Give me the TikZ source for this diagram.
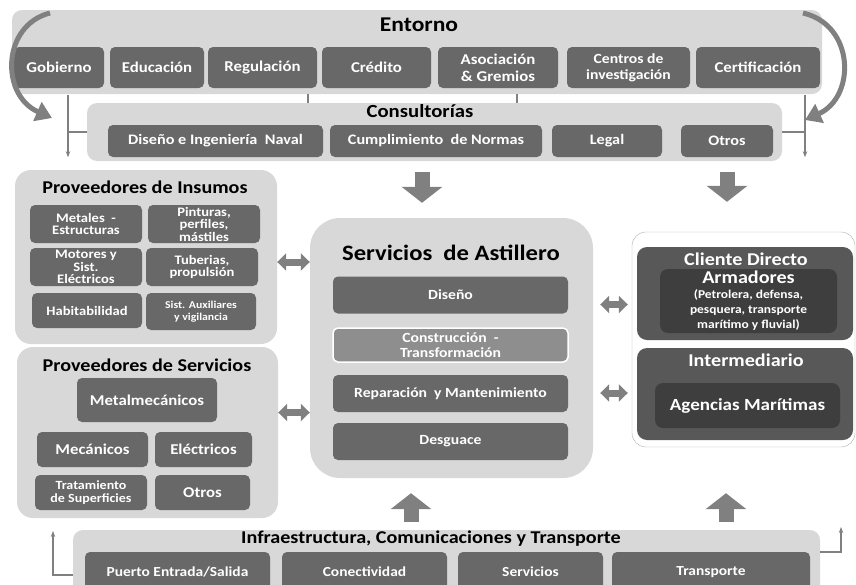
\documentclass[tikz,border=0pt]{standalone}
\usepackage{fontspec}
\setmainfont{Carlito}[FakeStretch=1.12]
\usetikzlibrary{arrows.meta}

\begin{document}
\begin{tikzpicture}[x=1pt,y=-1pt]
\definecolor{grisclaro}{RGB}{216,216,216}
\definecolor{grismedio}{RGB}{104,104,104}
\definecolor{grisoscuro}{RGB}{62,62,62}
\definecolor{grisflecha}{RGB}{128,128,128}
\tikzstyle{panel} = [fill=grisclaro, rounded corners=10pt, inner sep=0]
\tikzstyle{caja} = [fill=grismedio, rounded corners=5pt, text=white, align=center, inner sep=0]
\tikzstyle{titulo} = [text=black, inner sep=0]
\tikzstyle{linea} = [draw=grisflecha, line width=1.2pt]
\tikzstyle{bloque} = [draw=grisflecha, line width=15pt, -{Triangle[width=40pt,length=16pt]}]
\tikzstyle{doble} = [draw=grisflecha, line width=7pt, {Triangle[width=17pt,length=9pt]}-{Triangle[width=17pt,length=9pt]}]
\tikzstyle{curva} = [draw=grisflecha, line width=5pt, -{Triangle[width=20pt,length=16pt]}]

\path[use as bounding box] (0,0) rectangle (856,584);
\clip (0,0) rectangle (856,584);

% entorno
\node[panel, minimum width=810, minimum height=84] (ent) at (417,52) {};
\node[titulo, font=\fontsize{21}{21}\selectfont\bfseries] (entt) at (419,25) {Entorno};
\tikzstyle{ecaja} = [caja, minimum height=41, font=\fontsize{15}{17}\selectfont\bfseries]
\node[ecaja, minimum width=90] (gob) at (59,67.5) {Gobierno};
\node[ecaja, minimum width=94] (edu) at (157,67.5) {Educación};
\node[ecaja, minimum width=109] (reg) at (262.5,67.5) {Regulación};
\node[ecaja, minimum width=109] (cre) at (376.5,67.5) {Crédito};
\node[ecaja, minimum width=120] (aso) at (498,67.5) {Asociación\\\& Gremios};
\node[ecaja, minimum width=123, font=\fontsize{14}{16}\selectfont\bfseries] (cen) at (628.5,67.5) {Centros de\\investigación};
\node[ecaja, minimum width=124] (cer) at (758,67.5) {Certificación};

% consultorias
\node[panel, minimum width=695, minimum height=58] (cons) at (434.5,132) {};
\node[titulo, font=\fontsize{18.5}{18.5}\selectfont\bfseries] (const) at (420,111) {Consultorías};
\tikzstyle{ccaja} = [caja, minimum height=32, font=\fontsize{14.5}{15}\selectfont\bfseries]
\node[ccaja, minimum width=215] (dis) at (215.5,141) {Diseño e Ingeniería~ Naval};
\node[ccaja, minimum width=212] (cum) at (436,141) {Cumplimiento~ de Normas};
\node[ccaja, minimum width=110] (leg) at (607,141) {Legal};
\node[ccaja, minimum width=92] (otr) at (727,141) {Otros};

\coordinate (t1) at (308,94);
\coordinate (t2) at (517,94);
\draw[linea] (t1) -- (t1 |- cons.north);
\draw[linea] (t2) -- (t2 |- cons.north);

\coordinate (bi) at (68,95);
\coordinate (bd) at (805,95);
\draw[linea, -{Stealth[length=6pt]}] (bi) -- ([yshift=4pt]bi |- cons.south);
\draw[linea] (cons.west) -- (cons.west -| bi);
\draw[linea, -{Stealth[length=6pt]}] (bd) -- ([yshift=4pt]bd |- cons.south);
\draw[linea] (cons.east) -- (cons.east -| bd);

% flechas curvas
\coordinate (ci1) at (50,13);
\coordinate (ci2) at (52,118);
\coordinate (cd1) at (803,13);
\coordinate (cd2) at (805,120);
\draw[curva] (ci1) .. controls (2,25) and (0,95) .. (ci2);
\draw[curva] (cd1) .. controls (855,25) and (856,97) .. (cd2);

% proveedores de insumos
\node[panel, rounded corners=16pt, minimum width=262, minimum height=174] (ins) at (146,257) {};
\node[titulo, font=\fontsize{18}{18}\selectfont\bfseries] (inst) at (145,187) {Proveedores de Insumos};
\tikzstyle{icaja} = [caja, minimum width=112, minimum height=38, font=\fontsize{13}{12.5}\selectfont\bfseries]
\node[icaja] (met) at (86,224) {Metales~ -\\Estructuras};
\node[icaja] (pin) at (204,224) {Pinturas,\\perfiles,\\mástiles};
\node[icaja] (mot) at (86,267) {Motores y\\Sist.\\Eléctricos};
\node[icaja] (tub) at (202,267) {Tuberias,\\propulsión};
\node[icaja, minimum width=110, minimum height=35] (hab) at (87,310.5) {Habitabilidad};
\node[icaja, minimum width=110, minimum height=37, font=\fontsize{10.5}{12.5}\selectfont\bfseries] (aux) at (201,311.5) {Sist. Auxiliares\\y vigilancia};

% proveedores de servicios
\node[panel, rounded corners=16pt, minimum width=261, minimum height=171] (pser) at (147.5,432.5) {};
\node[titulo, font=\fontsize{18}{18}\selectfont\bfseries] (psert) at (147,365) {Proveedores de Servicios};
\tikzstyle{scaja} = [caja, minimum height=35, font=\fontsize{15}{15}\selectfont\bfseries]
\node[scaja, minimum width=140, minimum height=44] (mtm) at (147,400) {Metalmecánicos};
\node[scaja, minimum width=111] (mec) at (92.5,449.5) {Mecánicos};
\node[scaja, minimum width=97] (ele) at (203.5,449.5) {Eléctricos};
\node[scaja, minimum width=112, font=\fontsize{12.5}{13.5}\selectfont\bfseries] (tra) at (91,492.5) {Tratamiento\\de Superficies};
\node[scaja, minimum width=95] (otp) at (202.5,492.5) {Otros};

% servicios de astillero
\node[panel, rounded corners=30pt, minimum width=283, minimum height=260] (ast) at (451.5,348) {};
\node[titulo, font=\fontsize{22}{22}\selectfont\bfseries] (astt) at (451,253) {Servicios~ de Astillero};
\tikzstyle{acaja} = [caja, minimum width=235, minimum height=37, font=\fontsize{14}{15}\selectfont\bfseries]
\node[acaja] (dsn) at (450.5,295) {Diseño};
\node[acaja, minimum height=34, fill=grismedio!75, draw=white, line width=1.5pt] (con) at (450.5,345) {Construcción~ -\\Transformación};
\node[acaja] (rep) at (450.5,393.5) {Reparación~ y Mantenimiento};
\node[acaja] (des) at (450.5,441.5) {Desguace};

% clientes
\node[draw=grisclaro!80!black, fill=white, rounded corners=14pt, minimum width=223, minimum height=215] (dc) at (743.5,339.5) {};
\node[caja, rounded corners=10pt, fill=grismedio!85!black, minimum width=216, minimum height=93] (cli) at (745,293.5) {};
\node[titulo, text=white, font=\fontsize{18}{18}\selectfont\bfseries] (clit) at (746,259) {Cliente Directo};
\node[caja, rounded corners=8pt, fill=grisoscuro, minimum width=177, minimum height=64, font=\fontsize{12}{15}\selectfont\bfseries] (arm) at (748.5,301) {{\fontsize{18}{19}\selectfont Armadores}\\(Petrolera, defensa,\\pesquera, transporte\\marítimo y fluvial)};
\node[caja, rounded corners=10pt, fill=grismedio!85!black, minimum width=216, minimum height=92] (int) at (745,394) {};
\node[titulo, text=white, font=\fontsize{18}{18}\selectfont\bfseries] (intt) at (746,360) {Intermediario};
\node[caja, rounded corners=8pt, fill=grisoscuro, minimum width=185, minimum height=45, font=\fontsize{17}{17}\selectfont\bfseries] (age) at (747.5,405.5) {Agencias Marítimas};

% infraestructura
\node[panel, minimum width=747, minimum height=70] (inf) at (446.5,565) {};
\node[titulo, font=\fontsize{18}{18}\selectfont\bfseries] (inft) at (431,539) {Infraestructura, Comunicaciones y Transporte};
\tikzstyle{fcaja} = [caja, minimum height=40, font=\fontsize{13.8}{14}\selectfont\bfseries]
\node[fcaja, minimum width=185] (pue) at (177.5,572) {Puerto Entrada/Salida};
\node[fcaja, minimum width=165] (cne) at (364.5,572) {Conectividad};
\node[fcaja, minimum width=145] (ser) at (530.5,572) {Servicios};
\node[fcaja, minimum width=198] (trp) at (711,572) {Transporte};

\coordinate (ii) at (53,531);
\coordinate (id) at (841,527);
\draw[linea, -{Stealth[length=6pt]}] ([yshift=-10pt]inf.west) -| (ii);
\draw[linea, -{Stealth[length=6pt]}] ([yshift=13pt]inf.east) -| (id);

% flechas de bloque
\draw[bloque] ([yshift=-11pt]cons.south -| 422,0) -- ([yshift=15pt]ast.north -| 422,0);
\draw[bloque] ([yshift=-11pt]cons.south -| 727,0) -- ([yshift=30pt]dc.north -| 727,0);
\draw[bloque] ([yshift=8pt]inf.north -| 411,0) -- ([yshift=-15pt]ast.south -| 411,0);
\draw[bloque] ([yshift=8pt]inf.north -| 726,0) -- ([yshift=-46pt]dc.south -| 726,0);

\draw[doble] ([yshift=-5pt]ins.east) -- ([yshift=-5pt]ins.east -| ast.west);
\draw[doble] ([yshift=20pt]pser.east) -- ([yshift=20pt]pser.east -| ast.west);
\draw[doble, shorten <=7pt, shorten >=4pt] ([yshift=-11pt]cli.west -| ast.east) -- ([yshift=-11pt]cli.west -| dc.west);
\draw[doble, shorten <=7pt, shorten >=4pt] ([yshift=1pt]int.west -| ast.east) -- ([yshift=1pt]int.west -| dc.west);

\end{tikzpicture}
\end{document}
